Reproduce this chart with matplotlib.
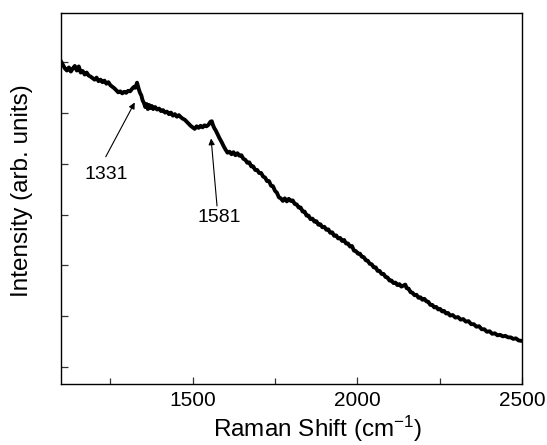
import matplotlib
matplotlib.use("Agg")
import matplotlib.pyplot as plt
from matplotlib.ticker import FixedLocator, NullFormatter

plt.rcParams['font.family'] = ['Liberation Sans', 'DejaVu Sans']
plt.rcParams['mathtext.fontset'] = 'custom'
plt.rcParams['mathtext.rm'] = 'Liberation Sans'
plt.rcParams['mathtext.it'] = 'Liberation Sans:italic'

raman_shift = [
    1100, 1106, 1112, 1118, 1124, 1130, 1136, 1142, 1148, 1154, 1160, 1166, 1172, 1178, 1184, 1190,
    1196, 1202, 1208, 1214, 1220, 1226, 1232, 1238, 1244, 1250, 1256, 1262, 1268, 1274, 1280, 1286,
    1292, 1298, 1304, 1310, 1316, 1322, 1326, 1331, 1336, 1340, 1344, 1348, 1352, 1356, 1360, 1364,
    1368, 1372, 1376, 1380, 1386, 1392, 1398, 1404, 1410, 1416, 1422, 1428, 1434, 1440, 1446, 1452,
    1458, 1464, 1470, 1476, 1482, 1488, 1494, 1500, 1506, 1512, 1518, 1524, 1530, 1536, 1542, 1548,
    1554, 1558, 1562, 1566, 1570, 1576, 1582, 1588, 1594, 1600, 1606, 1612, 1618, 1624, 1630, 1636,
    1642, 1648, 1654, 1660, 1666, 1672, 1678, 1684, 1690, 1696, 1702, 1708, 1714, 1720, 1726, 1732,
    1738, 1744, 1750, 1756, 1762, 1768, 1774, 1780, 1786, 1792, 1798, 1804, 1810, 1816, 1822, 1828,
    1834, 1840, 1846, 1852, 1858, 1864, 1870, 1876, 1882, 1888, 1894, 1900, 1906, 1912, 1918, 1924,
    1930, 1936, 1942, 1948, 1954, 1960, 1966, 1972, 1978, 1984, 1990, 1996, 2002, 2008, 2014, 2020,
    2026, 2032, 2038, 2044, 2050, 2056, 2062, 2068, 2074, 2080, 2086, 2092, 2098, 2104, 2110, 2116,
    2122, 2128, 2134, 2140, 2146, 2150, 2156, 2162, 2168, 2174, 2180, 2186, 2192, 2198, 2204, 2210,
    2216, 2222, 2228, 2234, 2240, 2246, 2252, 2258, 2264, 2270, 2276, 2282, 2290, 2298, 2306, 2314,
    2322, 2330, 2338, 2346, 2354, 2362, 2370, 2378, 2386, 2394, 2402, 2410, 2418, 2426, 2434, 2442,
    2450, 2458, 2466, 2474, 2482, 2490, 2500,
]

intensity = [
    6.02, 5.95, 5.88, 5.84, 5.90, 5.82, 5.88, 5.93, 5.84, 5.92, 5.80, 5.83, 5.76, 5.80, 5.74, 5.72,
    5.69, 5.66, 5.70, 5.63, 5.66, 5.61, 5.64, 5.58, 5.61, 5.55, 5.52, 5.49, 5.45, 5.41, 5.43, 5.39,
    5.42, 5.40, 5.44, 5.43, 5.48, 5.52, 5.50, 5.60, 5.48, 5.40, 5.35, 5.25, 5.20, 5.12, 5.18, 5.08,
    5.16, 5.10, 5.14, 5.08, 5.12, 5.07, 5.09, 5.04, 5.06, 5.01, 5.03, 4.98, 5.01, 4.95, 4.98, 4.93,
    4.96, 4.92, 4.89, 4.87, 4.83, 4.79, 4.75, 4.72, 4.69, 4.74, 4.71, 4.75, 4.72, 4.76, 4.74, 4.77,
    4.83, 4.84, 4.76, 4.70, 4.66, 4.58, 4.50, 4.43, 4.35, 4.28, 4.22, 4.24, 4.19, 4.23, 4.17, 4.21,
    4.16, 4.17, 4.10, 4.08, 4.02, 4.03, 3.95, 3.95, 3.88, 3.88, 3.82, 3.82, 3.75, 3.73, 3.66, 3.66,
    3.57, 3.56, 3.47, 3.43, 3.34, 3.32, 3.27, 3.32, 3.26, 3.31, 3.27, 3.28, 3.21, 3.20, 3.14, 3.14,
    3.06, 3.06, 2.98, 2.98, 2.91, 2.92, 2.86, 2.87, 2.80, 2.81, 2.75, 2.76, 2.70, 2.71, 2.64, 2.65,
    2.58, 2.59, 2.53, 2.54, 2.48, 2.50, 2.43, 2.43, 2.37, 2.38, 2.29, 2.28, 2.23, 2.23, 2.17, 2.16,
    2.10, 2.09, 2.03, 2.02, 1.96, 1.96, 1.89, 1.89, 1.83, 1.83, 1.77, 1.76, 1.70, 1.70, 1.65, 1.66,
    1.61, 1.63, 1.58, 1.60, 1.62, 1.55, 1.54, 1.47, 1.46, 1.41, 1.42, 1.36, 1.37, 1.32, 1.34, 1.29,
    1.28, 1.22, 1.22, 1.17, 1.18, 1.13, 1.14, 1.09, 1.10, 1.05, 1.06, 1.01, 1.02, 0.97, 0.98, 0.93,
    0.94, 0.89, 0.90, 0.84, 0.84, 0.79, 0.80, 0.74, 0.74, 0.69, 0.70, 0.65, 0.66, 0.62, 0.63, 0.60,
    0.61, 0.58, 0.58, 0.55, 0.56, 0.52, 0.51,
]

x_major = [1500, 2000, 2500]
x_minor = [1250, 1750, 2250]
y_ticks = [0, 1, 2, 3, 4, 5, 6]

peak_labels = ["1331", "1581"]
peak_text_xy = [(1237, 3.80), (1581, 2.94)]
peak_arrow_tip = [(1324, 5.21), (1556, 4.50)]
peak_arrow_tail = [(1236, 4.14), (1574, 3.17)]

fig = plt.figure(figsize=(5.47, 4.45), dpi=100)
ax = fig.add_axes([0.1115, 0.137, 0.8425, 0.8345])

ax.plot(raman_shift, intensity, color='black', linewidth=2.8, solid_joinstyle='round')

for lab, txy, tip, tail in zip(peak_labels, peak_text_xy, peak_arrow_tip, peak_arrow_tail):
    ax.text(txy[0], txy[1], lab, ha='center', va='center', fontsize=14)
    ax.annotate('', xy=tip, xytext=tail,
                arrowprops=dict(arrowstyle='-|>', color='black', lw=0.8,
                                mutation_scale=9, shrinkA=0, shrinkB=0))

ax.set_xlim(1100, 2500)
ax.set_ylim(-0.34, 6.98)
ax.xaxis.set_major_locator(FixedLocator(x_major))
ax.xaxis.set_minor_locator(FixedLocator(x_minor))
ax.yaxis.set_major_locator(FixedLocator(y_ticks))
ax.yaxis.set_major_formatter(NullFormatter())
ax.tick_params(axis='both', which='both', direction='in', width=0.9, color='#333333')
ax.tick_params(axis='x', which='major', length=5, labelsize=15, pad=5)
ax.tick_params(axis='x', which='minor', length=4)
ax.tick_params(axis='y', which='major', length=5)
for s in ax.spines.values():
    s.set_linewidth(1.0)

ax.set_xlabel('Raman Shift (cm$^{-1}$)', fontsize=17.5, labelpad=3)
ax.xaxis.label.set_x(0.557)
ax.set_ylabel('Intensity (arb. units)', fontsize=17.5, labelpad=17)
ax.yaxis.label.set_y(0.522)

fig.savefig('out.png', dpi=100)
